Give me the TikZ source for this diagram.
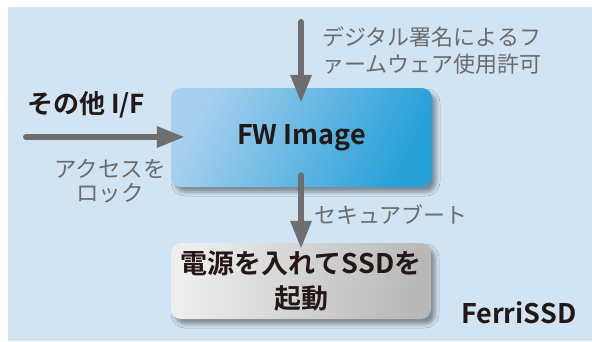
\documentclass[tikz,border=0pt]{standalone}
\usepackage{fontspec}
\setmainfont{Noto Sans CJK JP}[BoldFont={Noto Sans CJK JP Bold}]
\usetikzlibrary{arrows.meta,shadows.blur}
\definecolor{bgblue}{HTML}{D1E4F3}
\definecolor{arrowgray}{HTML}{6E6E6E}
\definecolor{labelgray}{HTML}{6B6B6B}
\definecolor{inkblack}{HTML}{231815}
\definecolor{fwlight}{HTML}{A8D0EE}
\definecolor{fwdark}{HTML}{27A0D8}
\definecolor{bootlight}{HTML}{EEEEEE}
\definecolor{bootdark}{HTML}{B8B8B8}
\tikzset{
  box/.style={rounded corners=10pt, inner sep=0pt, align=center, text=inkblack,
    font=\bfseries, blur shadow={shadow xshift=4pt, shadow yshift=-5pt, shadow blur radius=4pt, shadow blur extra rounding=2pt, shadow opacity=40}},
  fwbox/.style={box, shading=axis, top color=fwlight, bottom color=fwdark, shading angle=65},
  bootbox/.style={box, shading=axis, top color=bootlight, bottom color=bootdark, shading angle=80},
  flow/.style={draw=arrowgray, line width=6pt, line cap=round,
    -{Triangle[length=27pt,width=22pt,line width=0pt]}},
  graylabel/.style={text=labelgray, inner sep=0pt, fontsize={22}{27}},
  fontsize/.style 2 args={font=\fontsize{#1}{#2}\selectfont},
}
\begin{document}
\begin{tikzpicture}[x=1pt,y=-1pt]
\useasboundingbox (0,0) rectangle (592,341);
\fill[bgblue] (8,7) rectangle (592,341);
\node[fwbox, minimum width=261pt, minimum height=99pt, font=\bfseries\fontsize{27}{32}\selectfont] (fw) at (301.5,137.5) {FW Image};
\node[bootbox, minimum width=260pt, minimum height=76pt, font=\bfseries\fontsize{27}{35}\selectfont] (boot) at (301,281) {電源を入れてSSDを\\起動};
\coordinate (topstart) at (301,22);
\coordinate (leftstart) at (26,137);
\draw[flow] (topstart) -- ([yshift=-14pt]fw.north -| topstart);
\draw[flow] (leftstart) -- ([xshift=13pt]fw.west |- leftstart);
\draw[flow] ([yshift=12pt]fw.south -| topstart) -- ([yshift=-5pt]boot.north -| topstart);
\node[graylabel, anchor=west, align=left] (sig) at (322,51) {デジタル署名によるフ\\ァームウェア使用許可};
\node[graylabel, anchor=west] (secure) at (314,215) {セキュアブート};
\node[graylabel, align=center, fontsize={22.5}{24}] (lock) at (110,181) {アクセスを\\ロック};
\node[anchor=west, inner sep=0pt, text=inkblack, font=\bfseries\fontsize{26}{30}\selectfont] (other) at (27,105) {その他 I/F};
\node[anchor=west, inner sep=0pt, text=inkblack, font=\bfseries\fontsize{27}{30}\selectfont] (ferri) at (461,313) {FerriSSD};
\end{tikzpicture}
\end{document}
